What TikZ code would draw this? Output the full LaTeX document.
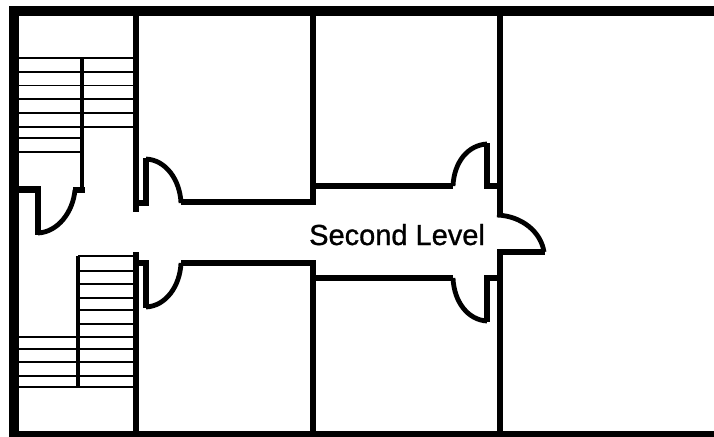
\documentclass[tikz,border=0pt]{standalone}
\usepackage{fontspec}
\setmainfont[FakeBold = 1]{Liberation Sans}

\begin{document}
\begin{tikzpicture}[x = 1pt, y = -1pt,
    outer wall/.style = {draw, line width = 10pt, line join = miter},
    inner wall/.style = {draw, line width = 6.2pt, line join = miter},
    swing/.style = {draw, line width = 4.8pt},
    tread/.style = {draw, line width = 1.8pt},
    rail/.style = {draw, line width = 3.6pt}]
        \useasboundingbox (0, 0) rectangle (714, 436);

        \foreach \ty in {58, 72, 85.5, 99, 113, 127}
            \path[tread] (18, \ty) -- (133, \ty);
        \foreach \ty in {138, 152}
            \path[tread] (18, \ty) -- (82, \ty);
        \foreach \ty in {256, 270.7, 284.3, 298, 310, 324}
            \path[tread] (78, \ty) -- (133, \ty);
        \foreach \ty in {337, 348.7, 362.3, 376, 387.3}
            \path[tread] (18, \ty) -- (133, \ty);
        \path[rail] (82, 58) -- (82, 189);
        \path[rail] (78, 256) -- (78, 388);

        \path[outer wall] (714, 11) -- (13.5, 11) -- (13.5, 436) -- (714, 436);

        \path[inner wall] (136, 16) -- (136, 212);
        \path[inner wall] (136, 252) -- (136, 431);
        \path[inner wall] (146, 158) -- (146, 203) -- (136, 203);
        \path[inner wall] (146, 308) -- (146, 263) -- (136, 263);
        \path[inner wall] (181, 202) -- (313, 202) -- (313, 16);
        \path[inner wall] (181, 263) -- (313, 263) -- (313, 431);
        \path[inner wall] (313, 186) -- (453, 186);
        \path[inner wall] (313, 278) -- (453, 278);
        \path[inner wall] (500, 16) -- (500, 216);
        \path[inner wall] (500, 252) -- (500, 431);
        \path[inner wall] (487, 143) -- (487, 186) -- (500, 186);
        \path[inner wall] (487, 322) -- (487, 278) -- (500, 278);
        \path[inner wall] (497, 252) -- (545, 252);
        \path[inner wall] (18, 189.5) -- (38, 189.5) -- (38, 235);
        \path[inner wall] (73, 190) -- (85, 190);

        \path[swing] (38, 233) .. controls (58, 232) and (73, 212) .. (75, 190);
        \path[swing] (146, 159) .. controls (166, 160) and (180, 180) .. (181, 203);
        \path[swing] (146, 307) .. controls (166, 306) and (180, 286) .. (181, 263);
        \path[swing] (487, 144) .. controls (468, 145) and (454, 162) .. (453, 186);
        \path[swing] (487, 321) .. controls (468, 320) and (454, 302) .. (453, 278);
        \path[swing] (497, 215) .. controls (522, 216) and (541, 232) .. (544, 252);

        \node[inner sep = 0pt, anchor = base west, font = \fontsize{29}{29}\selectfont] (label) at (309, 245) {Second Level};
\end{tikzpicture}
\end{document}
